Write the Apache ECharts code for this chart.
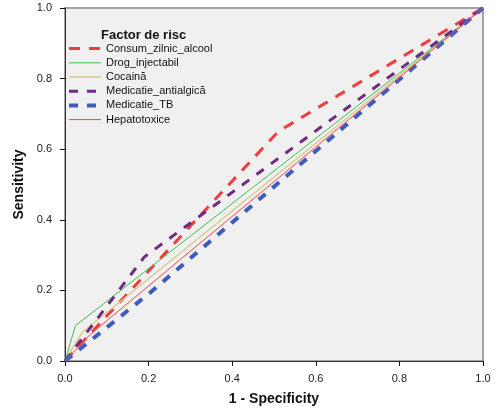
<!DOCTYPE html>
<html>
<head>
<meta charset="utf-8">
<script src="https://cdn.jsdelivr.net/npm/echarts@6/dist/echarts.min.js"></script>
<style>
  html, body { margin: 0; padding: 0; background: #fff; }
  #roc { width: 498px; height: 412px; }
</style>
</head>
<body>
<div id="roc"></div>
<script>
  // ROC curve points [1 - specificity, sensitivity]
  const consumZilnicAlcool = [[0, 0], [0.51, 0.65], [1, 1]]
  const drogInjectabil = [[0, 0], [0.025, 0.1], [1, 1]]
  const cocaina = [[0, 0], [0.04, 0.08], [1, 1]]
  const medicatieAntialgica = [[0, 0], [0.19, 0.295], [1, 1]]
  const medicatieTB = [[0, 0], [0.2, 0.19], [1, 1]]
  const hepatotoxice = [[0, 0], [0.06, 0.075], [1, 1]]

  const seriesNames = ['Consum_zilnic_alcool', 'Drog_injectabil', 'Cocaină', 'Medicatie_antialgică', 'Medicatie_TB', 'Hepatotoxice']
  const axisTicks = [0, 0.2, 0.4, 0.6, 0.8, 1.0]

  const font = 'Liberation Sans, Arial, sans-serif'

  function rocLine (name, data, color, width, type) {
    return {
      name: name,
      type: 'line',
      data: data,
      symbol: 'none',
      animation: false,
      lineStyle: { color: color, width: width, type: type },
      itemStyle: { color: color }
    }
  }

  const chart = echarts.init(document.getElementById('roc'))
  chart.setOption({
    backgroundColor: '#ffffff',
    title: {
      text: 'Factor de risc',
      left: 96,
      top: 24,
      textStyle: { fontFamily: font, fontSize: 13, fontWeight: 'bold', color: '#111' }
    },
    grid: {
      left: 65,
      right: 15,
      top: 8,
      bottom: 51,
      show: true,
      backgroundColor: '#f0f0f0',
      borderColor: '#888',
      borderWidth: 1.5
    },
    legend: {
      orient: 'vertical',
      left: 62,
      top: 38,
      itemWidth: 32,
      itemHeight: 14,
      itemGap: 3,
      data: seriesNames,
      itemStyle: { color: 'rgba(0,0,0,0)', borderWidth: 0 },
      lineStyle: { width: 'inherit' },
      textStyle: { fontFamily: font, fontSize: 11, color: '#111' }
    },
    xAxis: {
      type: 'value',
      min: 0,
      max: 1,
      interval: 0.2,
      name: '1 - Specificity',
      nameLocation: 'middle',
      nameGap: 31,
      nameTextStyle: { fontFamily: font, fontSize: 14, fontWeight: 'bold', color: '#111' },
      axisLine: { show: true, onZero: false, lineStyle: { color: '#333', width: 1 } },
      axisTick: { show: true, length: 5, lineStyle: { color: '#111' } },
      axisLabel: {
        margin: 12,
        fontFamily: font,
        fontSize: 11,
        color: '#222',
        formatter: v => axisTicks.includes(+v.toFixed(1)) ? v.toFixed(1) : ''
      },
      splitLine: { show: false }
    },
    yAxis: {
      type: 'value',
      min: 0,
      max: 1,
      interval: 0.2,
      name: 'Sensitivity',
      nameLocation: 'middle',
      nameGap: 28,
      nameTextStyle: { fontFamily: font, fontSize: 14, fontWeight: 'bold', color: '#111' },
      axisLine: { show: true, onZero: false, lineStyle: { color: '#333', width: 1 } },
      axisTick: { show: true, length: 5, lineStyle: { color: '#111' } },
      axisLabel: {
        margin: 13,
        fontFamily: font,
        fontSize: 11,
        color: '#222',
        formatter: v => v.toFixed(1)
      },
      splitLine: { show: false }
    },
    series: [
      rocLine(seriesNames[0], consumZilnicAlcool, '#f03c3c', 3, [11, 9]),
      rocLine(seriesNames[1], drogInjectabil, '#3cbf4a', 1, 'solid'),
      rocLine(seriesNames[2], cocaina, '#d6cb8e', 1.5, 'solid'),
      rocLine(seriesNames[3], medicatieAntialgica, '#6e2a84', 3, [9, 9]),
      rocLine(seriesNames[4], medicatieTB, '#3f5cbc', 4, [9, 9]),
      rocLine(seriesNames[5], hepatotoxice, '#f04646', 1, 'solid')
    ]
  })
</script>
</body>
</html>
